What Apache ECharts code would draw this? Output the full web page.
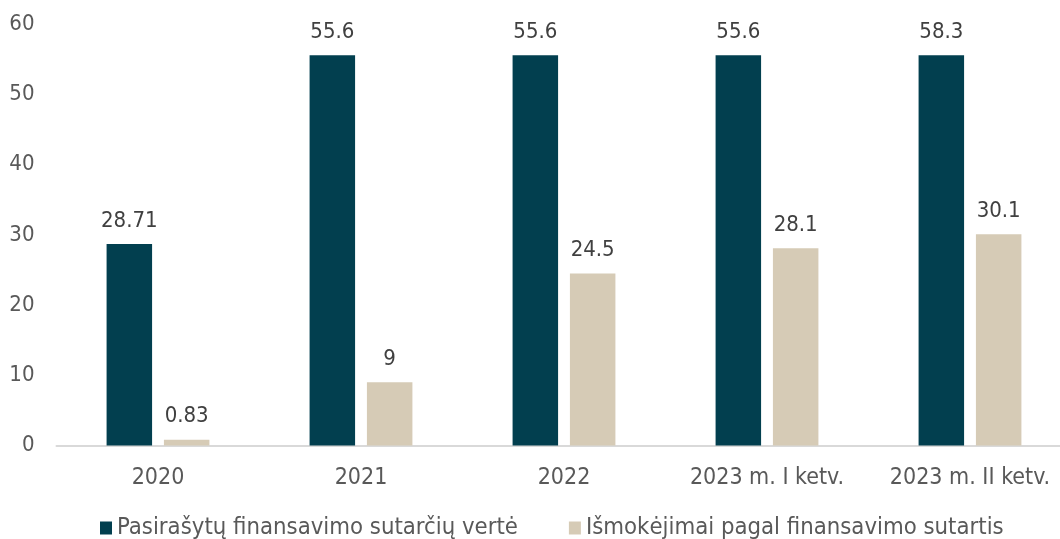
<!DOCTYPE html>
<html>
<head>
<meta charset="utf-8">
<script src="https://cdn.jsdelivr.net/npm/echarts@6/dist/echarts.min.js"></script>
<style>
html,body{margin:0;padding:0;background:#fff;}
#chart{width:1060px;height:539px;}
</style>
</head>
<body>
<div id="chart"></div>
<script>
const categories = ['2020', '2021', '2022', '2023 m. I ketv.', '2023 m. II ketv.'];
const seriesNames = ['Pasirašytų finansavimo sutarčių vertė', 'Išmokėjimai pagal finansavimo sutartis'];
// bar heights as drawn in the picture
const signedValues = [28.71, 55.6, 55.6, 55.6, 55.6];
const paidValues = [0.83, 9, 24.5, 28.1, 30.1];
// data label texts as printed in the picture
const signedLabels = ['28.71', '55.6', '55.6', '55.6', '58.3'];
const paidLabels = ['0.83', '9', '24.5', '28.1', '30.1'];
const yTicks = [0, 10, 20, 30, 40, 50, 60];

const FONT = '"DejaVu Sans Condensed", "DejaVu Sans", sans-serif';
const chart = echarts.init(document.getElementById('chart'), null, {renderer: 'canvas'});
chart.setOption({
  animation: false,
  backgroundColor: '#ffffff',
  grid: {left: 56.5, right: -11.5, top: 24.3, bottom: 93.5, containLabel: false, outerBoundsMode: 'none'},
  legend: {
    data: seriesNames,
    left: 100,
    top: 516,
    padding: 0,
    icon: 'rect',
    itemWidth: 12,
    itemHeight: 13,
    itemGap: 51,
    textStyle: {fontFamily: FONT, fontSize: 23.7, color: '#595959'}
  },
  xAxis: {
    type: 'category',
    data: categories,
    axisLine: {show: true, lineStyle: {color: '#d9d9d9', width: 2}},
    axisTick: {show: false},
    axisLabel: {fontFamily: FONT, fontSize: 23, color: '#595959', margin: 21, interval: 0, hideOverlap: false}
  },
  yAxis: {
    type: 'value',
    min: yTicks[0],
    max: yTicks[yTicks.length - 1],
    interval: 10,
    axisLine: {show: false},
    axisTick: {show: false},
    splitLine: {show: false},
    axisLabel: {fontFamily: FONT, fontSize: 22, color: '#595959', margin: 22}
  },
  series: [
    {
      name: seriesNames[0],
      type: 'bar',
      data: signedValues,
      barWidth: 45.5,
      barGap: '26%',
      itemStyle: {color: '#023f4f'},
      label: {
        show: true, position: 'top', distance: 12,
        fontFamily: FONT, fontSize: 22, color: '#404040',
        formatter: p => signedLabels[p.dataIndex]
      }
    },
    {
      name: seriesNames[1],
      type: 'bar',
      data: paidValues,
      barWidth: 45.5,
      barGap: '26%',
      itemStyle: {color: '#d6cbb6'},
      label: {
        show: true, position: 'top', distance: 12,
        fontFamily: FONT, fontSize: 22, color: '#404040',
        formatter: p => paidLabels[p.dataIndex]
      }
    }
  ]
});
</script>
</body>
</html>
